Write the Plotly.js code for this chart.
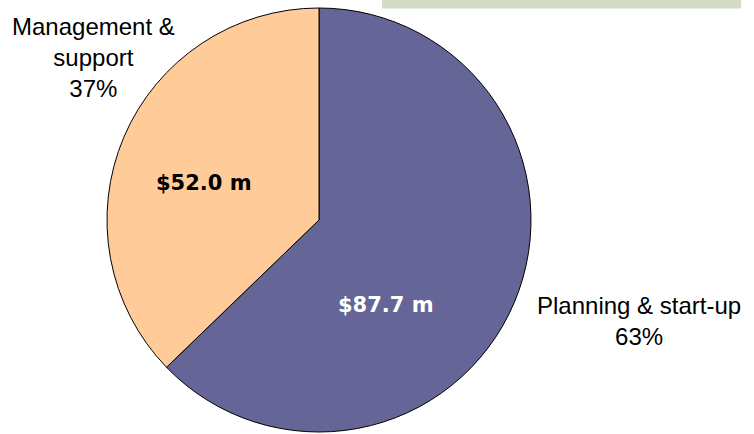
<!DOCTYPE html>
<html>
<head>
<meta charset="utf-8">
<script src="https://cdn.plot.ly/plotly-3.0.1.min.js"></script>
<style>html,body{margin:0;padding:0;background:#fff;}#chart{width:754px;height:434px;}</style>
</head>
<body>
<div id="chart"></div>
<script>
// Data
const categories = ["Planning & start-up", "Management & support"];
const outsideLabels = ["Planning & start-up", "Management &<br>support"];
const valuesMillions = [87.7, 52.0];
const sliceColors = ["#656598", "#ffcc99"];

const total = valuesMillions.reduce((a, b) => a + b, 0);
const pct = valuesMillions.map(v => Math.round(v / total * 100));

const W = 754, H = 434;
const px = x => x / W;
const py = y => 1 - y / H;

const trace = {
  type: "pie",
  labels: categories,
  values: valuesMillions,
  sort: false,
  direction: "clockwise",
  rotation: 0,
  marker: { colors: sliceColors, line: { color: "#000000", width: 1 } },
  textinfo: "none",
  hoverinfo: "label+value+percent",
  showlegend: false,
  domain: { x: [px(107), px(531)], y: [py(432), py(8)] }
};

// Annotation positions (pixels in the figure)
const insidePos = [[386, 305], [204, 183]];
const insideColors = ["#ffffff", "#000000"];
const outsidePos = [[639, 321], [93, 58]];

const annotations = [];
for (let i = 0; i < categories.length; i++) {
  annotations.push({
    xref: "paper", yref: "paper",
    x: px(insidePos[i][0]), y: py(insidePos[i][1]),
    xanchor: "center", yanchor: "middle",
    showarrow: false,
    text: "<b>$" + valuesMillions[i].toFixed(1) + " m</b>",
    font: { family: "DejaVu Sans", size: 21, color: insideColors[i] }
  });
  annotations.push({
    xref: "paper", yref: "paper",
    x: px(outsidePos[i][0]), y: py(outsidePos[i][1]),
    xanchor: "center", yanchor: "middle",
    align: "center",
    showarrow: false,
    text: outsideLabels[i] + "<br>" + pct[i] + "%",
    font: { family: "Liberation Sans, Arial", size: 24, color: "#000000" }
  });
}

const layout = {
  width: W, height: H,
  margin: { l: 0, r: 0, t: 0, b: 0 },
  paper_bgcolor: "#ffffff",
  showlegend: false,
  annotations: annotations,
  shapes: [{
    type: "rect", xref: "paper", yref: "paper",
    x0: px(382), x1: px(741), y0: py(8.5), y1: 1.01,
    fillcolor: "#d4dcc8", line: { width: 0 }, layer: "below"
  }]
};

Plotly.newPlot("chart", [trace], layout, { displayModeBar: false, staticPlot: true });
</script>
</body>
</html>
